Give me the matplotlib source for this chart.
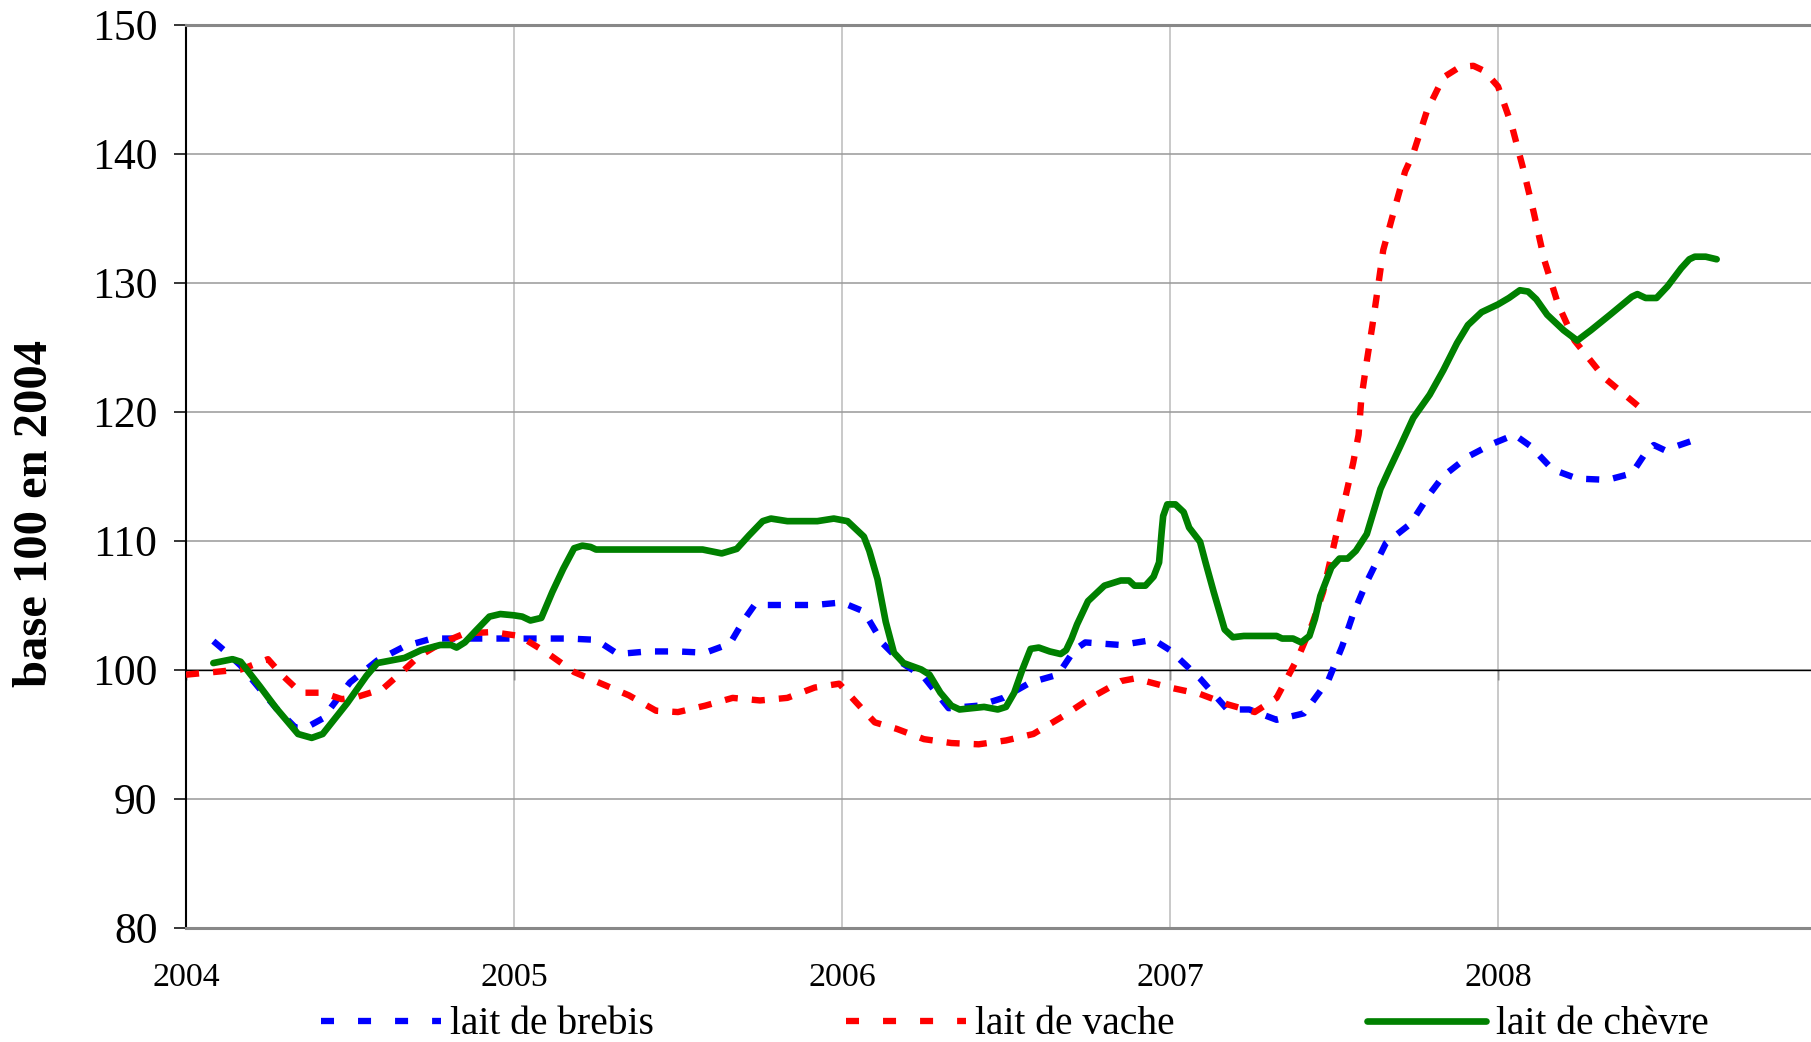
import matplotlib
matplotlib.use('Agg')
import matplotlib.pyplot as plt
from matplotlib.lines import Line2D
import numpy as np

plt.rcParams['font.family'] = ['Liberation Serif', 'DejaVu Serif']

# ---------------- data (months counted from January 2004) ----------------
year_ticks = [2004, 2005, 2006, 2007, 2008]
y_ticks = [80, 90, 100, 110, 120, 130, 140, 150]
labels = ['lait de brebis', 'lait de vache', 'lait de chèvre']

brebis_months = [1.0, 1.5, 2.0, 2.7, 3.3, 4.0, 4.4, 5.0, 6.0, 7.0, 8.0, 9.0, 10.0,
                 12.0, 14.0, 15.0, 15.8, 16.9, 18.0, 19.0, 19.9, 20.4, 20.8, 21.8,
                 23.0, 24.0, 24.8, 25.5, 26.2, 27.0, 27.9, 29.0, 29.9, 30.9, 31.9,
                 32.5, 32.9, 34.2, 35.4, 36.0, 37.1, 38.1, 38.9, 39.9, 40.9, 41.8,
                 42.3, 42.7, 43.2, 43.9, 44.8, 45.5, 46.0, 46.9, 47.8, 48.6, 49.2,
                 50.0, 50.9, 52.0, 52.9, 53.4, 53.7, 54.1, 55.2]
brebis_values = [102.2, 101.3, 100.3, 98.5, 97.0, 95.5, 95.5, 96.2, 99.0, 100.7, 101.8,
                 102.4, 102.4, 102.4, 102.4, 102.3, 101.2, 101.4, 101.4, 101.3, 102.0,
                 103.8, 105.0, 105.0, 105.0, 105.2, 104.5, 102.0, 100.5, 99.4, 97.0,
                 97.2, 97.8, 99.0, 99.6, 101.5, 102.1, 101.9, 102.3, 101.5, 99.3, 96.9,
                 96.9, 96.1, 96.6, 99.2, 101.8, 104.3, 106.8, 109.8, 111.3, 113.6, 115.0,
                 116.5, 117.5, 118.2, 117.3, 115.5, 114.8, 114.7, 115.2, 116.8, 117.4,
                 117.0, 117.8]

vache_months = [0.0, 1.0, 2.0, 3.0, 3.5, 4.2, 5.0, 5.7, 6.3, 7.2, 8.0, 8.5, 9.3, 10.2,
                11.2, 12.2, 13.2, 14.2, 15.2, 16.2, 17.2, 18.0, 19.0, 20.0, 21.0, 22.0,
                23.0, 23.9, 24.5, 25.2, 26.0, 27.0, 28.0, 29.0, 30.0, 31.0, 32.1, 33.1,
                34.2, 34.7, 35.1, 36.0, 37.1, 38.1, 39.1, 39.9, 40.7, 41.2, 41.6, 42.1,
                42.4, 42.7, 42.9, 43.0, 43.2, 43.4, 43.6, 43.8, 44.2, 44.6, 44.9, 45.4,
                46.0, 46.6, 47.1, 47.5, 48.0, 48.5, 48.9, 49.3, 49.7, 50.2, 50.8, 51.9,
                53.2]
vache_values = [99.6, 99.8, 100.0, 100.8, 99.6, 98.2, 98.2, 97.7, 97.9, 98.5, 100.0,
                101.0, 102.0, 102.8, 102.9, 102.6, 101.3, 99.8, 98.9, 98.0, 96.8, 96.7,
                97.2, 97.8, 97.6, 97.8, 98.6, 98.9, 97.5, 95.9, 95.4, 94.6, 94.3, 94.2,
                94.5, 95.0, 96.4, 97.8, 99.1, 99.3, 99.1, 98.6, 98.1, 97.3, 96.7, 97.8,
                101.0, 103.5, 106.0, 110.6, 113.2, 116.0, 118.2, 121.0, 123.9, 126.6,
                129.5, 132.5, 135.6, 138.6, 140.0, 143.3, 145.9, 146.7, 146.8, 146.4,
                145.2, 142.2, 139.0, 135.5, 131.7, 128.3, 125.5, 122.6, 120.3]

chevre_months = [1.0, 1.7, 2.0, 2.7, 3.3, 4.1, 4.6, 5.0, 5.9, 6.6, 7.0, 7.5, 8.0, 8.6,
                 9.3, 9.7, 9.9, 10.2, 10.6, 11.1, 11.5, 12.0, 12.3, 12.6, 13.0, 13.4,
                 13.8, 14.2, 14.5, 14.8, 15.0, 18.9, 19.6, 20.15, 20.6, 21.1, 21.4, 22.0,
                 23.1, 23.7, 24.2, 24.8, 25.0, 25.3, 25.6, 25.9, 26.25, 26.9, 27.2, 27.6,
                 28.0, 28.3, 29.2, 29.7, 30.0, 30.3, 30.6, 30.9, 31.2, 31.6, 32.0, 32.2,
                 32.4, 32.6, 33.0, 33.6, 34.2, 34.5, 34.7, 35.1, 35.4, 35.6, 35.7, 35.75,
                 35.9, 36.2, 36.5, 36.7, 37.1, 37.3, 37.6, 38.0, 38.3, 38.7, 39.9, 40.1,
                 40.5, 40.8, 41.1, 41.3, 41.5, 41.9, 42.2, 42.5, 42.8, 43.2, 43.7, 44.0,
                 44.4, 44.9, 45.5, 46.0, 46.5, 46.9, 47.4, 48.0, 48.4, 48.8, 49.1, 49.4,
                 49.8, 50.4, 50.9, 51.4, 52.1, 52.9, 53.1, 53.4, 53.8, 54.2, 54.7, 55.0,
                 55.2, 55.6, 56.0]
chevre_values = [100.5, 100.8, 100.6, 98.7, 97.0, 95.0, 94.7, 95.0, 97.4, 99.5, 100.5,
                 100.7, 100.9, 101.5, 101.9, 101.9, 101.7, 102.1, 103.0, 104.1, 104.3,
                 104.2, 104.1, 103.8, 104.0, 106.0, 107.8, 109.4, 109.6, 109.5, 109.3,
                 109.3, 109.0, 109.35, 110.4, 111.5, 111.7, 111.5, 111.5, 111.7, 111.5,
                 110.3, 109.2, 107.0, 103.7, 101.3, 100.5, 100.0, 99.6, 98.2, 97.2, 96.9,
                 97.1, 96.9, 97.1, 98.2, 100.0, 101.6, 101.7, 101.4, 101.2, 101.5, 102.4,
                 103.5, 105.3, 106.5, 106.9, 106.9, 106.5, 106.5, 107.2, 108.3, 110.8,
                 111.9, 112.8, 112.8, 112.2, 111.0, 109.9, 108.3, 106.0, 103.1, 102.5,
                 102.6, 102.6, 102.4, 102.4, 102.1, 102.6, 103.9, 105.7, 107.9, 108.6,
                 108.6, 109.2, 110.5, 114.0, 115.4, 117.2, 119.5, 121.3, 123.2, 125.3,
                 126.7, 127.7, 128.3, 128.8, 129.4, 129.3, 128.7, 127.5, 126.3, 125.5,
                 126.3, 127.5, 128.9, 129.1, 128.8, 128.8, 129.7, 131.1, 131.8, 132.0,
                 132.0, 131.8]

# ---------------- figure ----------------
W, H = 1811, 1042
fig = plt.figure(figsize=(W / 100, H / 100), dpi=100)
ax_left, ax_right, ax_top, ax_bottom = 186, 1826, 24.5, 927.5
ax = fig.add_axes([ax_left / W, 1 - ax_bottom / H,
                   (ax_right - ax_left) / W, (ax_bottom - ax_top) / H])

def to_x(months):
    return 2004 + np.asarray(months) / 12.0

dash_lw = 4.6
green_lw = 4.8
dash = (2.05, 2.2)
ax.plot(to_x(brebis_months), brebis_values, color='#0000FF', lw=dash_lw,
        dashes=dash, dash_capstyle='butt', zorder=3)
ax.plot(to_x(vache_months), vache_values, color='#FF0000', lw=dash_lw,
        dashes=dash, dash_capstyle='butt', zorder=4)
ax.plot(to_x(chevre_months), chevre_values, color='#008000', lw=green_lw,
        solid_capstyle='round', solid_joinstyle='round', zorder=5)

ax.set_xlim(2004, 2009)
ax.set_ylim(80, 150)

# grid
ax.set_yticks(y_ticks)
ax.set_xticks(year_ticks)
ax.yaxis.grid(True, color='#999999', lw=1.1, zorder=0)
ax.xaxis.grid(True, color='#BBBBBB', lw=1.1, zorder=0)
ax.set_axisbelow(True)
ax.axhline(100, color='black', lw=1.0, zorder=2)

# spines
ax.spines['left'].set_color('black')
ax.spines['left'].set_linewidth(1.5)
for s in ('top', 'bottom'):
    ax.spines[s].set_color('#888888')
    ax.spines[s].set_linewidth(2.2)
ax.spines['right'].set_visible(False)

ax.tick_params(axis='y', direction='out', length=8.6, width=1.1, pad=12,
               labelsize=31.5, color='black')
ax.tick_params(axis='x', length=0, pad=25, labelsize=24.5)

# tick marks of the category axis crossing at 100
sec = ax.secondary_xaxis((100 - 80) / (150 - 80))
sec.set_xticks(year_ticks)
sec.tick_params(axis='x', direction='out', length=7, width=1.0, color='black',
                labelbottom=False, labeltop=False)
for s in sec.spines.values():
    s.set_visible(False)

# y label
fig.text(35 / W, 1 - 514 / H, 'base 100 en 2004', rotation=90, fontsize=35,
         fontweight='bold', ha='center', va='center')

# legend
handles = [
    Line2D([], [], color='#0000FF', lw=4.55, dashes=(2.06, 3.8), dash_capstyle='butt'),
    Line2D([], [], color='#FF0000', lw=4.55, dashes=(2.06, 3.8), dash_capstyle='butt'),
    Line2D([], [], color='#008000', lw=4.8, solid_capstyle='round'),
]
fig.legend(handles, labels, loc='center left',
           bbox_to_anchor=(321 / W, 1 - 1025 / H), ncol=3, frameon=False,
           fontsize=28.5, handlelength=3.03, handletextpad=0.23,
           columnspacing=4.85, borderpad=0, borderaxespad=0)

fig.savefig('out.png', dpi=100)
